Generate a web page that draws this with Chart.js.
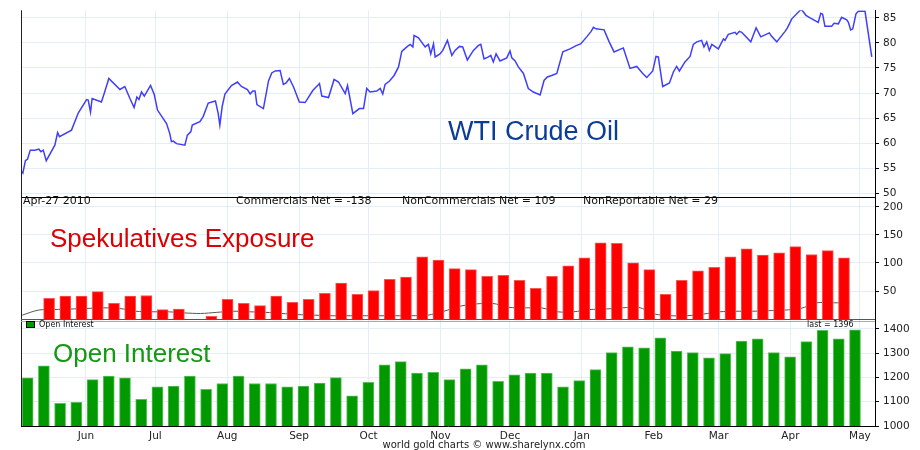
<!DOCTYPE html>
<html>
<head>
<meta charset="utf-8">
<script src="https://cdn.jsdelivr.net/npm/chart.js@4/dist/chart.umd.min.js"></script>
<style>
  html, body { margin: 0; background: #fff; }
  canvas { display: block; }
</style>
</head>
<body>
<canvas id="chart" width="920" height="450"></canvas>
<script>
// weekly COT report dates (Tuesdays)
const weeks = [
  '2010-05-04', '2010-05-11', '2010-05-18', '2010-05-25', '2010-06-01', '2010-06-08', '2010-06-15',
  '2010-06-22', '2010-06-29', '2010-07-06', '2010-07-13', '2010-07-20', '2010-07-27', '2010-08-03',
  '2010-08-10', '2010-08-17', '2010-08-24', '2010-08-31', '2010-09-07', '2010-09-14', '2010-09-21',
  '2010-09-28', '2010-10-05', '2010-10-12', '2010-10-19', '2010-10-26', '2010-11-02', '2010-11-09',
  '2010-11-16', '2010-11-23', '2010-11-30', '2010-12-07', '2010-12-14', '2010-12-21', '2010-12-28',
  '2011-01-04', '2011-01-11', '2011-01-18', '2011-01-25', '2011-02-01', '2011-02-08', '2011-02-15',
  '2011-02-22', '2011-03-01', '2011-03-08', '2011-03-15', '2011-03-22', '2011-03-29', '2011-04-05',
  '2011-04-12', '2011-04-19', '2011-04-26'
];

// NonCommercials net (thousand contracts)
const nonCommercials = [
  null, null, 37, 41, 41, 49, 28, 41, 42, 17, 18, null, 5, 35, 28, 24, 41, 30, 35, 46,
  64, 44, 51, 71, 75, 111, 105, 90, 88, 76, 78, 69, 55, 76, 95, 109, 136, 135, 100, 88,
  44, 69, 86, 92, 111, 125, 114, 118, 129, 115, 122, 109
];

// NonReportable net
const nonReportable = [
  7, 16, 17, 18, 19, 20, 19, 14, 13, 13, 11, 10, 12, 14, 13, 12, 10, 8, 7, 6,
  6, 6, 6, 6, 6, 7, 14, 23, 27, 28, 21, 20, 20, 13, 13, 17, 18, 20, 21, 9,
  6, 6, 9, 13, 14, 14, 15, 16, 19, 29, 29, 29
];

// Open interest (thousand contracts)
const openInterest = [
  1198, 1248, 1093, 1097, 1191, 1205, 1198, 1110, 1161, 1164, 1205, 1151, 1175, 1205, 1175, 1175,
  1161, 1164, 1177, 1199, 1124, 1180, 1252, 1265, 1218, 1221, 1191, 1235, 1252, 1184, 1211, 1218,
  1218, 1161, 1187, 1232, 1302, 1326, 1322, 1363, 1308, 1302, 1281, 1298, 1349, 1359, 1302, 1285,
  1347, 1394, 1359, 1396
];

// WTI crude: days after 2010-06-01 and price
const oilDays = [
  -28.0, -27.2, -26.1, -25.2, -24.0, -22.0, -20.3, -19.4, -18.4, -17.1, -13.4, -12.2, -11.4, -6.2,
  -3.3, 0.3, 1.0, 2.0, 2.7, 6.7, 7.9, 9.9, 14.7, 16.8, 19.0, 20.8, 22.0, 22.9, 24.0, 25.2, 27.9,
  29.5, 30.9, 34.8, 36.2, 36.9, 37.7, 39.1, 42.7, 43.8, 45.3, 45.9, 49.2, 50.6, 52.8, 55.9, 57.1,
  57.8, 58.8, 60.0, 62.8, 65.4, 67.1,
  69.7, 70.9, 72.0, 73.0, 73.8, 76.6, 78.8, 80.2, 81.7, 83.8, 85.2, 86.4, 87.8, 89.6, 92.1, 94.6,
  97.9, 100.8, 101.8, 104.7, 107.1, 109.0, 111.9, 112.9, 115.2, 118.0, 119.8, 121.2, 122.6, 125.5,
  127.0, 128.1, 129.1, 131.0, 133.0, 134.9, 136.3, 138.5, 139.9, 141.1, 141.6, 143.5, 146.4, 147.8,
  148.8, 150.0, 150.7, 152.8, 154.0, 156.0, 157.9, 159.3, 161.2, 162.6,
  164.6, 167.2, 169.4, 170.4, 171.8, 173.7, 174.7, 175.8, 177.0, 178.7, 181.6, 183.0, 183.8, 185.2,
  186.6, 188.8, 190.9, 193.1, 196.0, 197.7, 199.1, 201.0, 203.2, 205.8, 208.9, 211.8, 213.5, 216.1,
  218.0, 219.0, 220.1, 223.6, 225.8, 227.9, 231.9, 234.8, 237.7, 240.3, 242.0, 244.6, 246.0, 247.0,
  248.9, 251.8, 253.5, 254.9, 256.1,
  258.5, 260.7, 262.1, 263.6, 265.7, 266.7, 267.9, 269.0, 270.1, 272.9, 275.1, 275.8, 277.2, 280.1,
  280.8, 282.0, 283.0, 286.9, 289.2, 291.2, 294.9, 295.9, 298.1, 301.7, 302.7, 304.6, 308.2, 308.9,
  310.7, 312.5, 316.0, 317.1, 317.9, 318.9, 321.8, 322.8, 324.7, 326.1, 328.3, 329.0, 330.0, 330.9,
  332.3, 333.3, 336.2, 339.1
];
const oilPrices = [
  54.4, 54.0, 56.5, 56.8, 58.6, 58.6, 58.8, 58.3, 58.6, 56.5, 59.6, 62.1, 61.3, 62.6,
  66.0, 68.7, 68.6, 66.2, 68.9, 68.2, 69.9, 72.9, 70.7, 71.3, 68.9, 67.1, 69.2, 68.7, 70.2, 69.4, 71.5,
  69.7, 66.6, 63.9, 61.9, 60.3, 60.4, 59.9, 59.6, 61.6, 62.3, 63.6, 64.3, 65.3, 68.0, 68.4, 65.9,
  63.6, 67.3, 69.8, 71.5, 72.2, 71.3,
  70.7, 69.8, 70.4, 70.4, 67.7, 66.9, 72.4, 74.0, 74.4, 74.5, 71.7, 72.0, 72.9, 71.2, 68.2, 68.1,
  70.5, 71.9, 69.4, 69.1, 72.7, 72.2, 69.9, 71.5, 65.9, 66.9, 66.9, 70.9, 70.2, 70.4,
  70.9, 69.8, 71.7, 72.4, 73.5, 75.2, 78.3, 79.2, 79.7, 79.2, 81.5, 81.0, 79.2, 79.7,
  77.8, 79.8, 77.2, 77.8, 78.5, 80.5, 77.5, 78.5, 79.3, 79.2,
  76.6, 78.5, 79.5, 79.7, 76.8, 77.2, 77.5, 76.2, 77.8, 76.4, 77.0, 78.4, 77.0, 76.4,
  75.2, 73.9, 70.9, 70.2, 69.6, 72.5, 73.2, 73.5, 73.9, 78.2, 78.8, 79.5, 79.8, 81.2,
  82.3, 83.1, 82.8, 82.6, 80.2, 78.2, 79.0, 74.9, 75.3, 73.9, 73.1, 74.4, 77.3, 77.2,
  71.3, 72.0, 74.2, 75.3, 74.4,
  76.2, 77.3, 79.7, 80.2, 80.5, 79.2, 80.2, 78.5, 79.7, 78.8, 80.8, 80.5, 81.7, 82.1,
  81.7, 82.3, 82.1, 80.2, 83.0, 81.2, 82.0, 81.3, 80.2, 82.3, 83.0, 84.8, 86.5, 86.6,
  85.5, 85.0, 84.1, 85.9, 85.7, 83.3, 83.3, 83.9, 83.8, 85.1, 84.6, 84.1, 82.6, 82.8,
  85.8, 86.3, 86.3, 77.2
];

const monthLabels = ['Jun', 'Jul', 'Aug', 'Sep', 'Oct', 'Nov', 'Dec', 'Jan', 'Feb', 'Mar', 'Apr', 'May'];
const monthStarts = [
  '2010-06-01', '2010-07-01', '2010-08-01', '2010-09-01', '2010-10-01', '2010-11-01',
  '2010-12-01', '2011-01-01', '2011-02-01', '2011-03-01', '2011-04-01', '2011-05-01'
];

const oilTicks = [50, 55, 60, 65, 70, 75, 80, 85];
const cotTicks = [50, 100, 150, 200];
const oiTicks = [1000, 1100, 1200, 1300, 1400];

const infoTexts = ['Apr-27 2010', 'Commercials Net = -138', 'NonCommercials Net = 109', 'NonReportable Net = 29'];
const lastOI = 'last = 1396';

// ---------------------------------------------------------------

const ORIGIN = Date.UTC(2010, 5, 1);
const dayOf = s => (Date.parse(s) - ORIGIN) / 86400000;
// a weekly bar sits in the middle of its report day
const weekX = weeks.map(w => dayOf(w) + 0.5);

const gridBlue = '#e4eef9';
const axisFont = { family: 'DejaVu Sans', size: 10.5 };

function panelAxis(weight, min, max, list) {
  return {
    type: 'linear',
    position: 'right',
    stack: 'panels',
    stackWeight: weight,
    min: min,
    max: max,
    afterBuildTicks: s => { s.ticks = list.map(v => ({ value: v })); },
    afterFit: s => { s.width = 45; },
    grid: { color: gridBlue, tickColor: '#000', tickLength: 4 },
    border: { color: '#000' },
    ticks: {
      autoSkip: false, font: axisFont, color: '#222', padding: 4,
      callback: v => String(v)
    }
  };
}

// frame lines and the texts on the chart
const decorations = {
  id: 'decorations',
  afterDraw(chart) {
    const { ctx, chartArea: a, scales } = chart;
    ctx.save();

    ctx.lineWidth = 1;
    ctx.strokeStyle = '#222';
    ctx.beginPath();
    ctx.moveTo(a.left + 0.5, a.top);
    ctx.lineTo(a.left + 0.5, a.bottom);
    ctx.stroke();

    const sep1 = Math.round(scales.y.bottom) + 0.5;
    ctx.strokeStyle = '#000';
    ctx.beginPath();
    ctx.moveTo(a.left, sep1);
    ctx.lineTo(a.right, sep1);
    ctx.stroke();

    const sep2 = Math.round(scales.y2.bottom) + 0.5;
    ctx.strokeStyle = '#555';
    ctx.beginPath();
    ctx.moveTo(a.left, sep2);
    ctx.lineTo(a.right, sep2);
    ctx.stroke();
    ctx.strokeStyle = '#aaa';
    ctx.beginPath();
    ctx.moveTo(a.left, sep2 + 2);
    ctx.lineTo(a.right, sep2 + 2);
    ctx.stroke();

    // big panel titles
    ctx.textBaseline = 'alphabetic';
    ctx.textAlign = 'left';
    ctx.font = '27px "Liberation Sans", Arial, sans-serif';
    ctx.fillStyle = '#0b3c97';
    ctx.fillText('WTI Crude Oil', 448, 140);
    ctx.font = '26px "Liberation Sans", Arial, sans-serif';
    ctx.fillStyle = '#dd0000';
    ctx.fillText('Spekulatives Exposure', 50, 247);
    ctx.fillStyle = '#119911';
    ctx.fillText('Open Interest', 53, 362);

    // info line of the COT panel
    ctx.font = '11px "DejaVu Sans"';
    ctx.fillStyle = '#111';
    ctx.textBaseline = 'middle';
    const infoX = [23, 236, 402, 583];
    infoTexts.forEach((t, i) => ctx.fillText(t, infoX[i], 201));

    // small legend of the open interest panel
    ctx.fillStyle = '#009900';
    ctx.fillRect(27, 322, 7, 5);
    ctx.strokeStyle = '#000';
    ctx.strokeRect(26.5, 321.5, 8, 6);
    ctx.font = '8px "DejaVu Sans"';
    ctx.fillStyle = '#111';
    ctx.fillText('Open Interest', 39, 325);
    ctx.fillText(lastOI, 807, 325);

    // footnote
    ctx.font = '10px "DejaVu Sans"';
    ctx.textAlign = 'center';
    ctx.fillStyle = '#222';
    ctx.fillText('world gold charts \u00a9 www.sharelynx.com', 484, 445);

    ctx.restore();
  }
};

new Chart(document.getElementById('chart'), {
  type: 'bar',
  data: {
    datasets: [
      {
        type: 'line',
        label: 'WTI Crude Oil',
        data: oilDays.map((d, i) => ({ x: d, y: oilPrices[i] })),
        yAxisID: 'y',
        borderColor: '#3f3ffb',
        borderWidth: 1.5,
        pointRadius: 0,
        tension: 0,
        order: 0
      },
      {
        type: 'bar',
        label: 'NonCommercials Net',
        data: weekX.map((x, i) => ({ x: x, y: nonCommercials[i] })),
        yAxisID: 'y2',
        backgroundColor: '#ff0000',
        borderColor: '#ff5555',
        borderWidth: 1,
        barThickness: 11,
        order: 1
      },
      {
        type: 'line',
        label: 'NonReportable Net',
        data: weekX.map((x, i) => ({ x: x, y: nonReportable[i] })),
        yAxisID: 'y2',
        borderColor: '#555',
        borderWidth: 1,
        pointRadius: 0,
        tension: 0.3,
        order: 2
      },
      {
        type: 'bar',
        label: 'Open Interest',
        data: weekX.map((x, i) => ({ x: x, y: openInterest[i] })),
        yAxisID: 'y3',
        backgroundColor: '#009900',
        borderColor: '#5cbf5c',
        borderWidth: 1,
        barThickness: 11,
        order: 1
      }
    ]
  },
  options: {
    responsive: false,
    animation: false,
    layout: { padding: { left: 21, top: 8, right: 0, bottom: 0 } },
    plugins: { legend: { display: false }, tooltip: { enabled: false } },
    scales: {
      x: {
        type: 'linear',
        min: -28,
        max: 340.5,
        offset: false,
        afterBuildTicks: s => { s.ticks = monthStarts.map(d => ({ value: dayOf(d) })); },
        afterFit: s => { s.height = 24; },
        grid: { color: gridBlue, drawTicks: false, offset: false },
        border: { color: '#000' },
        ticks: {
          autoSkip: false, maxRotation: 0, padding: 4,
          font: { family: 'DejaVu Sans', size: 10.5 }, color: '#222',
          callback: (v, i) => monthLabels[i]
        }
      },
      y: panelAxis(188, 49.2, 86.5, oilTicks),
      y2: panelAxis(122.5, 0, 217, cotTicks),
      y3: panelAxis(107.5, 1000, 1440, oiTicks)
    }
  },
  plugins: [decorations]
});
</script>
</body>
</html>
